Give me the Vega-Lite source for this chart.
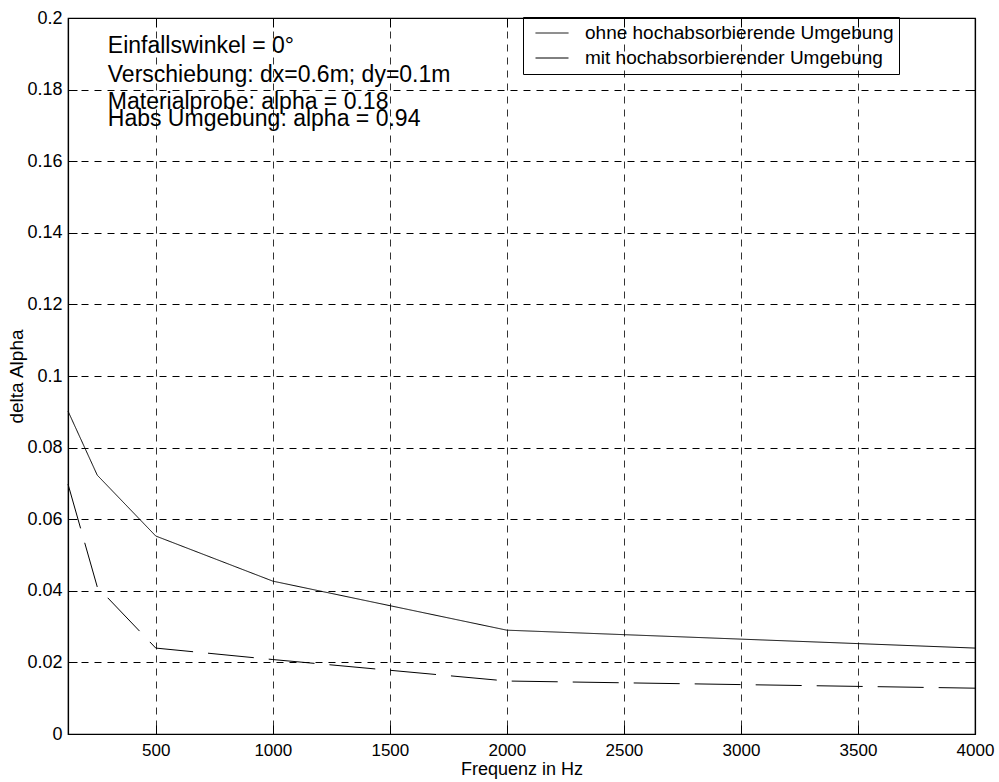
{
  "$schema": "https://vega.github.io/schema/vega-lite/v6.json",
  "width": 907,
  "height": 716,
  "autosize": {"type": "none"},
  "padding": {"left": 68, "top": 18, "right": 24, "bottom": 48},
  "background": "white",
  "config": {
    "font": "Liberation Sans",
    "view": {"stroke": "black", "strokeWidth": 1.2},
    "axis": {
      "domainColor": "black",
      "domainWidth": 1.2,
      "tickColor": "black",
      "tickWidth": 1,
      "labelColor": "black",
      "titleColor": "black",
      "titleFontWeight": "normal",
      "labelFontSize": 18,
      "titleFontSize": 19
    }
  },
  "datasets": {
    "curves": [
      {"freq": 125, "value": 0.0902, "series": "ohne hochabsorbierende Umgebung"},
      {"freq": 250, "value": 0.0723, "series": "ohne hochabsorbierende Umgebung"},
      {"freq": 500, "value": 0.0553, "series": "ohne hochabsorbierende Umgebung"},
      {"freq": 1000, "value": 0.0427, "series": "ohne hochabsorbierende Umgebung"},
      {"freq": 2000, "value": 0.029, "series": "ohne hochabsorbierende Umgebung"},
      {"freq": 4000, "value": 0.024, "series": "ohne hochabsorbierende Umgebung"},
      {"freq": 125, "value": 0.0698, "series": "mit hochabsorbierender Umgebung"},
      {"freq": 250, "value": 0.0411, "series": "mit hochabsorbierender Umgebung"},
      {"freq": 500, "value": 0.024, "series": "mit hochabsorbierender Umgebung"},
      {"freq": 1000, "value": 0.0208, "series": "mit hochabsorbierender Umgebung"},
      {"freq": 2000, "value": 0.0148, "series": "mit hochabsorbierender Umgebung"},
      {"freq": 4000, "value": 0.0128, "series": "mit hochabsorbierender Umgebung"}
    ],
    "notes": [
      {"freq": 295, "value": 0.1902, "label": "Einfallswinkel = 0°"},
      {"freq": 295, "value": 0.1821, "label": "Verschiebung: dx=0.6m; dy=0.1m"},
      {"freq": 295, "value": 0.1746, "label": "Materialprobe: alpha = 0.18"},
      {"freq": 295, "value": 0.1698, "label": "Habs Umgebung: alpha = 0.94"}
    ]
  },
  "resolve": {"axis": {"x": "independent", "y": "independent"}},
  "layer": [
    {
      "data": {"name": "curves"},
      "mark": {"type": "line", "strokeWidth": 1},
      "encoding": {
        "x": {
          "field": "freq", "type": "quantitative",
          "scale": {"domain": [125, 4000], "nice": false, "zero": false},
          "axis": {
            "orient": "bottom",
            "values": [500, 1000, 1500, 2000, 2500, 3000, 3500, 4000],
            "format": "d",
            "grid": true, "gridDash": [7, 6], "gridColor": "#333", "gridWidth": 1,
            "tickSize": -9, "labelPadding": 17, "labelFontSize": 17, "labelFlush": false,
            "title": "Frequenz in Hz", "titleFontSize": 18, "titlePadding": 2
          }
        },
        "y": {
          "field": "value", "type": "quantitative",
          "scale": {"domain": [0, 0.2], "nice": false, "zero": true},
          "axis": {
            "orient": "left",
            "values": [0, 0.02, 0.04, 0.06, 0.08, 0.1, 0.12, 0.14, 0.16, 0.18, 0.2],
            "format": ".2~f",
            "grid": true, "gridDash": [7, 6], "gridColor": "black", "gridWidth": 1,
            "tickSize": -9, "labelPadding": 15,
            "title": "delta Alpha", "titlePadding": 0
          }
        },
        "color": {
          "field": "series", "type": "nominal",
          "scale": {"domain": ["ohne hochabsorbierende Umgebung", "mit hochabsorbierender Umgebung"], "range": ["black", "black"]},
          "legend": {
            "title": null, "orient": "none", "legendX": 455, "legendY": -1,
            "symbolType": "stroke", "symbolSize": 1089, "symbolStrokeWidth": 1,
            "clipHeight": 22, "rowPadding": 3, "padding": 5,
            "symbolOffset": 7, "labelOffset": 16, "labelLimit": 500,
            "labelFontSize": 19, "labelColor": "black",
            "strokeColor": "black"
          }
        },
        "strokeDash": {
          "field": "series", "type": "nominal",
          "scale": {"domain": ["ohne hochabsorbierende Umgebung", "mit hochabsorbierender Umgebung"], "range": [[1, 0], [46, 15]]},
          "legend": null
        }
      }
    },
    {
      "data": {"name": "notes"},
      "mark": {"type": "text", "align": "left", "baseline": "alphabetic", "fontSize": 23, "color": "black"},
      "encoding": {
        "x": {
          "field": "freq", "type": "quantitative",
          "scale": {"domain": [125, 4000], "nice": false, "zero": false},
          "axis": {
            "orient": "top",
            "values": [500, 1000, 1500, 2000, 2500, 3000, 3500, 4000],
            "labels": false, "grid": false, "tickSize": -9, "title": null
          }
        },
        "y": {
          "field": "value", "type": "quantitative",
          "scale": {"domain": [0, 0.2], "nice": false, "zero": true},
          "axis": {
            "orient": "right",
            "values": [0, 0.02, 0.04, 0.06, 0.08, 0.1, 0.12, 0.14, 0.16, 0.18, 0.2],
            "labels": false, "grid": false, "tickSize": -9, "title": null
          }
        },
        "text": {"field": "label", "type": "nominal"}
      }
    }
  ]
}
